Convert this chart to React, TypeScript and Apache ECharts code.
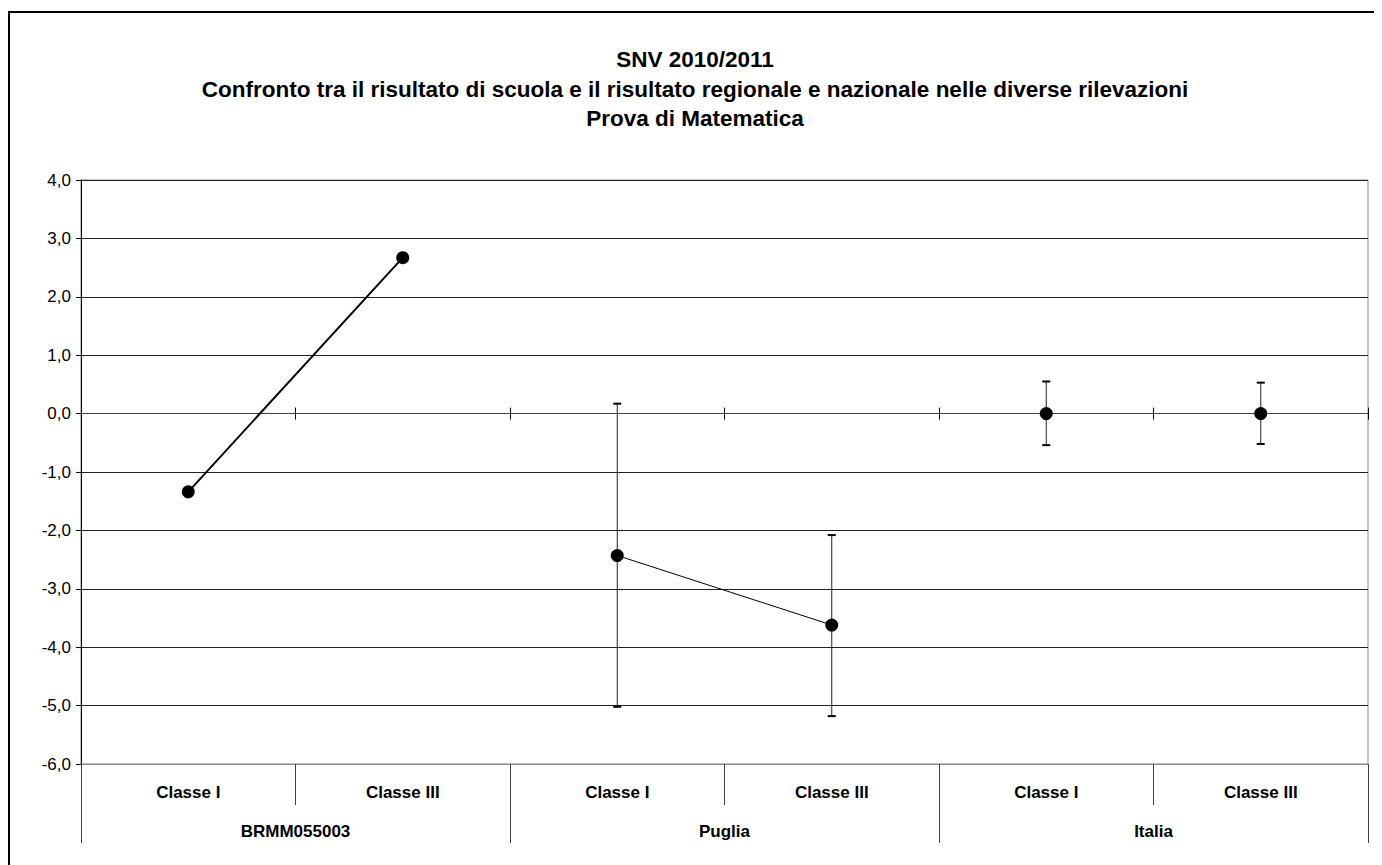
import React, { useEffect, useRef } from "react";
import * as echarts from "echarts";

const categories = ["Classe I", "Classe III", "Classe I", "Classe III", "Classe I", "Classe III"];
const groups = ["BRMM055003", "Puglia", "Italia"];
const schoolValues = [-1.34, 2.67, null, null, null, null];
const regionValues = [null, null, -2.43, -3.62, null, null];
const nationValues = [null, null, null, null, 0, 0];
// [categoryIndex, low, high]
const errorBars = [
  [2, -5.02, 0.17],
  [3, -5.18, -2.08],
  [4, -0.54, 0.55],
  [5, -0.52, 0.53],
];
const yTicks = { min: -6, max: 4, interval: 1 };

const FONT = '"Liberation Sans", Arial, sans-serif';

export default function App() {
  const ref = useRef<HTMLDivElement>(null);
  useEffect(() => {
    if (!ref.current) return;
    const chart = echarts.init(ref.current, null, { renderer: "svg" });
    const option: any = {
      animation: false,
      backgroundColor: "#fff",
      textStyle: { fontFamily: FONT },
      title: {
        text: "SNV 2010/2011\nConfronto tra il risultato di scuola e il risultato regionale e nazionale nelle diverse rilevazioni\nProva di Matematica",
        left: "center",
        top: 32,
        textStyle: { fontFamily: FONT, fontSize: 22.5, fontWeight: "bold", color: "#000", lineHeight: 29.5 },
      },
      graphic: [
        {
          type: "rect",
          shape: { x: 1, y: 4, width: 1500, height: 1000 },
          style: { fill: "none", stroke: "#000", lineWidth: 2 },
          silent: true,
          z: -1,
        },
      ],
      grid: {
        left: 73,
        top: 172,
        width: 1287,
        height: 584,
        show: true,
        borderColor: "#888",
        borderWidth: 1,
        backgroundColor: "transparent",
      },
      xAxis: [
        {
          type: "category",
          data: categories,
          position: "bottom",
          axisLine: { onZero: true, lineStyle: { color: "#444", width: 1 } },
          axisTick: { show: true, inside: true, length: 6, lineStyle: { color: "#000" } },
          axisLabel: { show: false },
          splitLine: { show: false },
        },
        {
          type: "category",
          data: categories,
          position: "bottom",
          axisLine: { onZero: false, lineStyle: { color: "#888", width: 1 } },
          axisTick: { show: true, length: 41, lineStyle: { color: "#444" } },
          axisLabel: {
            show: true,
            margin: 20,
            fontFamily: FONT,
            fontSize: 17,
            fontWeight: "bold",
            color: "#000",
            interval: 0,
          },
          splitLine: { show: false },
        },
        {
          type: "category",
          data: groups,
          position: "bottom",
          axisLine: { show: false, onZero: false },
          axisTick: { show: true, length: 79, lineStyle: { color: "#444" } },
          axisLabel: {
            show: true,
            margin: 59,
            fontFamily: FONT,
            fontSize: 17,
            fontWeight: "bold",
            color: "#000",
            interval: 0,
          },
          splitLine: { show: false },
        },
        {
          type: "category",
          data: categories,
          position: "bottom",
          axisLine: { show: false, onZero: true, onZeroAxisIndex: 0 },
          axisTick: { show: true, inside: false, length: 6, lineStyle: { color: "#000" } },
          axisLabel: { show: false },
          splitLine: { show: false },
        },
      ],
      yAxis: {
        type: "value",
        min: yTicks.min,
        max: yTicks.max,
        interval: yTicks.interval,
        axisLine: { show: true, lineStyle: { color: "#000", width: 1 } },
        axisTick: { show: true, length: 5, lineStyle: { color: "#000" } },
        axisLabel: {
          margin: 10,
          fontFamily: FONT,
          fontSize: 17,
          color: "#000",
          formatter: (v: number) => v.toFixed(1).replace(".", ","),
        },
        splitLine: { show: true, lineStyle: { color: "#222", width: 1 } },
      },
      series: [
        {
          type: "custom",
          xAxisIndex: 0,
          z: 2,
          data: errorBars,
          encode: { x: 0, y: [1, 2] },
          renderItem: (params: any, api: any) => {
            const idx = api.value(0);
            const lo = api.coord([idx, api.value(1)]);
            const hi = api.coord([idx, api.value(2)]);
            const half = 4;
            return {
              type: "group",
              children: [
                {
                  type: "line",
                  shape: { x1: lo[0], y1: lo[1], x2: hi[0], y2: hi[1] },
                  style: { stroke: "#222", lineWidth: 1 },
                },
                {
                  type: "line",
                  shape: { x1: lo[0] - half, y1: lo[1], x2: lo[0] + half, y2: lo[1] },
                  style: { stroke: "#000", lineWidth: 2 },
                },
                {
                  type: "line",
                  shape: { x1: hi[0] - half, y1: hi[1], x2: hi[0] + half, y2: hi[1] },
                  style: { stroke: "#000", lineWidth: 2 },
                },
              ],
            };
          },
        },
        {
          type: "line",
          name: "BRMM055003",
          xAxisIndex: 0,
          z: 3,
          data: schoolValues,
          symbol: "circle",
          symbolSize: 13,
          itemStyle: { color: "#000", opacity: 1 },
          lineStyle: { color: "#000", width: 2 },
        },
        {
          type: "line",
          name: "Puglia",
          xAxisIndex: 0,
          z: 3,
          data: regionValues,
          symbol: "circle",
          symbolSize: 13,
          itemStyle: { color: "#000", opacity: 1 },
          lineStyle: { color: "#000", width: 1 },
        },
        {
          type: "scatter",
          name: "Italia",
          xAxisIndex: 0,
          z: 3,
          data: nationValues,
          symbol: "circle",
          symbolSize: 13,
          itemStyle: { color: "#000", opacity: 1 },
        },
      ],
    };
    chart.setOption(option);
    return () => chart.dispose();
  }, []);
  return <div ref={ref} style={{ width: 1374, height: 857 }} />;
}
